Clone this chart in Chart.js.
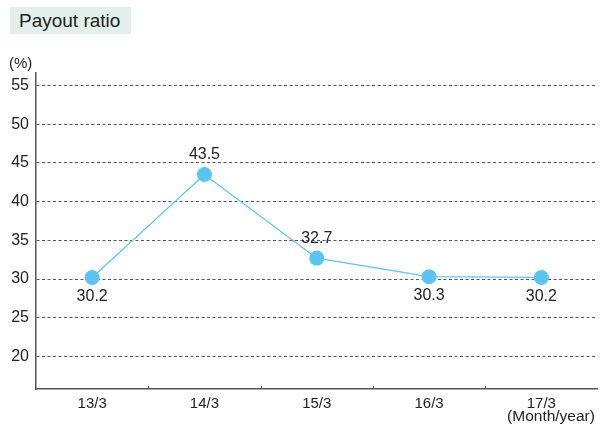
<!DOCTYPE html>
<html>
<head>
<meta charset="utf-8">
<script src="https://cdn.jsdelivr.net/npm/chart.js@4"></script>
<style>
  html, body { margin: 0; padding: 0; background: #fff; }
  #wrap { position: relative; width: 605px; height: 425px; }
  #title {
    position: absolute; left: 10px; top: 7px; width: 121px; height: 27px;
    background: #e3efeb; font-family: 'Liberation Sans', Arial, sans-serif;
    font-size: 19px; color: #222; line-height: 28px; box-sizing: border-box; padding-left: 9px;
  }
</style>
</head>
<body>
<div id="wrap">
  <canvas id="chart" width="605" height="425"></canvas>
  <div id="title">Payout ratio</div>
</div>
<script>
// Payout ratio by fiscal year end
const years = ['13/3', '14/3', '15/3', '16/3', '17/3'];
const payout = [30.2, 43.5, 32.7, 30.3, 30.2];
const labelAbove = [false, true, true, false, false];
const yTicks = [20, 25, 30, 35, 40, 45, 50, 55];

const FONT = "'Liberation Sans', Arial, sans-serif";
const BLUE = '#5bc4f1';

// value labels, axis unit labels and inner x ticks
const extras = {
  id: 'extras',
  afterDatasetsDraw(chart) {
    const ctx = chart.ctx;
    const meta = chart.getDatasetMeta(0);
    const x = chart.scales.x;
    const area = chart.chartArea;
    ctx.save();
    ctx.fillStyle = '#222';
    ctx.font = '16px ' + FONT;
    ctx.textAlign = 'center';
    meta.data.forEach(function (pt, i) {
      if (labelAbove[i]) {
        ctx.textBaseline = 'bottom';
        ctx.fillText(payout[i].toFixed(1), pt.x, pt.y - 12);
      } else {
        ctx.textBaseline = 'top';
        ctx.fillText(payout[i].toFixed(1), pt.x, pt.y + 11);
      }
    });
    ctx.font = '15px ' + FONT;
    ctx.textAlign = 'left';
    ctx.textBaseline = 'middle';
    ctx.fillText('(%)', 9, 64);
    ctx.textAlign = 'center';
    ctx.font = '15.5px ' + FONT;
    ctx.fillText('(Month/year)', 551, 417);

    ctx.strokeStyle = '#555';
    ctx.lineWidth = 1;
    for (let i = 0; i < years.length - 1; i++) {
      const px = Math.round(x.getPixelForValue(i + 0.5)) + 0.5;
      ctx.beginPath();
      ctx.moveTo(px, area.bottom);
      ctx.lineTo(px, area.bottom - 3);
      ctx.stroke();
    }
    ctx.restore();
  }
};

new Chart(document.getElementById('chart'), {
  type: 'line',
  data: {
    labels: years,
    datasets: [{
      data: payout,
      borderColor: BLUE,
      backgroundColor: BLUE,
      borderWidth: 1.2,
      pointRadius: 7.5,
      pointHoverRadius: 7.5,
      pointBorderWidth: 0,
      tension: 0,
    }],
  },
  options: {
    responsive: false,
    animation: false,
    layout: { padding: { top: 73, right: 5, left: 0, bottom: 0 } },
    plugins: {
      legend: { display: false },
      tooltip: { enabled: false },
    },
    scales: {
      x: {
        offset: true,
        grid: { display: false, drawTicks: false },
        border: { color: '#555', width: 1.5 },
        ticks: { color: '#222', font: { family: FONT, size: 15 }, padding: 6 },
        afterFit: function (s) { s.height = 36; },
      },
      y: {
        min: 15.8,
        max: 56.6,
        afterBuildTicks: function (s) {
          s.ticks = yTicks.map(function (v) { return { value: v }; });
        },
        grid: {
          color: '#555',
          lineWidth: 1,
          drawTicks: false,
        },
        border: { color: '#555', width: 1.5, dash: [3, 2.5] },
        ticks: { color: '#222', font: { family: FONT, size: 16 }, padding: 7 },
        afterFit: function (s) { s.width = 36; },
      },
    },
  },
  plugins: [extras],
});
</script>
</body>
</html>
